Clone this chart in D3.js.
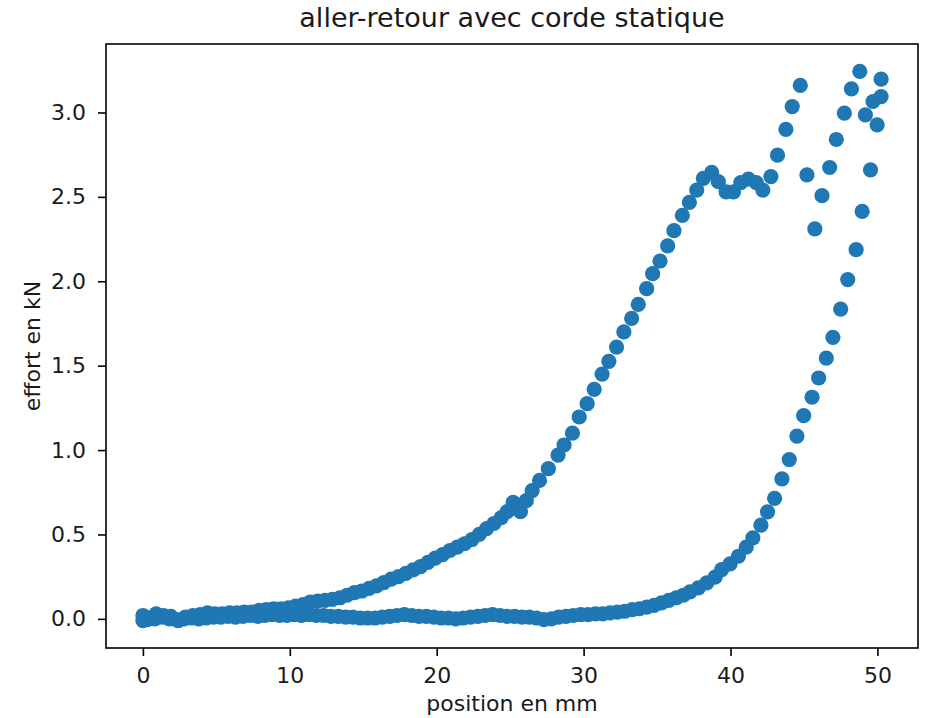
<!DOCTYPE html>
<html>
<head>
<meta charset="utf-8">
<script src="https://cdn.jsdelivr.net/npm/d3@7"></script>
<style>
  html, body { margin: 0; padding: 0; background: #fff; }
  svg { display: block; font-family: "DejaVu Sans", sans-serif; }
</style>
</head>
<body>
<svg id="chart" width="926" height="718"></svg>
<script>
// Loading run ("aller"): position (mm) and force (kN)
const allerX = [0.0, 0.4, 0.9, 1.4, 1.9, 2.4, 2.9, 3.4, 3.9, 4.4, 4.9, 5.4, 5.9, 6.4, 6.9, 7.4, 7.9, 8.4, 8.9, 9.4,
  9.9, 10.4, 10.9, 11.4, 11.9, 12.4, 12.9, 13.4, 13.9, 14.4, 14.9, 15.4, 15.9, 16.4, 16.9, 17.4, 17.9, 18.4, 18.9, 19.4,
  19.9, 20.4, 20.9, 21.4, 21.9, 22.4, 22.9, 23.4, 23.9, 24.4, 24.8, 25.2, 25.7, 26.1, 26.5, 27.0, 27.6, 28.26, 28.67, 29.24,
  29.7, 30.24, 30.72, 31.26, 31.72, 32.24, 32.74, 33.27, 33.72, 34.29, 34.7, 35.2, 35.72, 36.15, 36.72, 37.2, 37.7, 38.15, 38.72, 39.17,
  39.7, 40.2, 40.7, 41.22, 41.75, 42.2, 42.75, 43.2, 43.77, 44.2, 44.75, 45.2, 45.74, 46.23, 46.75, 47.2, 47.75, 48.23, 48.8, 50.25];
const allerY = [0.02, 0.005, 0.03, 0.02, 0.015, -0.01, 0.01, 0.02, 0.025, 0.035, 0.03, 0.03, 0.035, 0.035, 0.04, 0.04, 0.05, 0.055, 0.06, 0.06,
  0.065, 0.075, 0.085, 0.1, 0.105, 0.11, 0.115, 0.125, 0.14, 0.155, 0.165, 0.18, 0.195, 0.215, 0.235, 0.25, 0.27, 0.29, 0.31, 0.335,
  0.36, 0.38, 0.405, 0.425, 0.445, 0.47, 0.5, 0.535, 0.565, 0.6, 0.635, 0.69, 0.635, 0.7, 0.76, 0.82, 0.89, 0.97, 1.03, 1.10,
  1.196, 1.275, 1.36, 1.45, 1.526, 1.61, 1.70, 1.78, 1.863, 1.956, 2.045, 2.12, 2.21, 2.30, 2.39, 2.467, 2.54, 2.61, 2.645, 2.59,
  2.53, 2.53, 2.585, 2.605, 2.585, 2.54, 2.62, 2.747, 2.90, 3.035, 3.16, 2.63, 2.31, 2.507, 2.674, 2.84, 2.996, 3.14, 3.243, 3.197];

// Unloading run ("retour")
const retourX = [50.25, 49.7, 49.18, 49.98, 49.53, 48.96, 48.55, 47.98, 47.5, 46.97, 46.52, 46.0, 45.55, 44.98, 44.52, 44.0, 43.5, 43.0, 42.52, 42.07,
  41.52, 41.07, 40.54, 39.97, 39.4, 38.95, 38.38, 37.81, 37.24, 36.79, 36.3, 35.8, 35.3, 34.8, 34.3, 33.8, 33.3, 32.8, 32.3, 31.8,
  31.3, 30.8, 30.3, 29.8, 29.3, 28.8, 28.3, 27.8, 27.3, 26.8, 26.3, 25.8, 25.3, 24.8, 24.3, 23.8, 23.3, 22.8, 22.3, 21.8,
  21.3, 20.8, 20.3, 19.8, 19.3, 18.8, 18.3, 17.8, 17.3, 16.8, 16.3, 15.8, 15.3, 14.8, 14.3, 13.8, 13.3, 12.8, 12.3, 11.8,
  11.3, 10.8, 10.3, 9.8, 9.3, 8.8, 8.3, 7.8, 7.3, 6.8, 6.3, 5.8, 5.3, 4.8, 4.3, 3.8, 3.3, 2.8, 2.3, 1.8,
  1.3, 0.8, 0.3, 0.0];
const retourY = [3.094, 3.065, 2.986, 2.927, 2.66, 2.414, 2.187, 2.01, 1.835, 1.668, 1.545, 1.427, 1.313, 1.204, 1.082, 0.944, 0.829, 0.714, 0.634, 0.555,
  0.48, 0.425, 0.371, 0.326, 0.292, 0.247, 0.213, 0.184, 0.16, 0.14, 0.125, 0.11, 0.095, 0.08, 0.07, 0.06, 0.055, 0.045, 0.04, 0.035,
  0.03, 0.03, 0.025, 0.025, 0.02, 0.015, 0.01, 0.0, -0.005, 0.005, 0.01, 0.01, 0.015, 0.015, 0.02, 0.025, 0.02, 0.015, 0.01, 0.005,
  0.0, 0.005, 0.005, 0.01, 0.015, 0.015, 0.02, 0.025, 0.02, 0.015, 0.01, 0.005, 0.005, 0.005, 0.01, 0.01, 0.015, 0.015, 0.02, 0.02,
  0.025, 0.02, 0.025, 0.02, 0.02, 0.025, 0.02, 0.015, 0.02, 0.015, 0.01, 0.015, 0.01, 0.01, 0.005, 0.0, 0.005, 0.0, -0.005, 0.0,
  0.01, 0.0, -0.005, -0.01];

const xTicks = [0, 10, 20, 30, 40, 50];
const yTicks = [0.0, 0.5, 1.0, 1.5, 2.0, 2.5, 3.0];

const title = "aller-retour avec corde statique";
const xLabel = "position en mm";
const yLabel = "effort en kN";

const color = "#1f77b4";
const margin = { left: 106, right: 8, top: 44, bottom: 70 };
const W = 926, H = 718;
const labelSize = "22px";
const titleSize = "27px";

const svg = d3.select("#chart");

const points = allerX.map((x, i) => ({ x, y: allerY[i] }))
  .concat(retourX.map((x, i) => ({ x, y: retourY[i] })));

// Data limits with 5% padding on each side
function padded(ext) {
  const d = (ext[1] - ext[0]) * 0.05;
  return [ext[0] - d, ext[1] + d];
}
const x = d3.scaleLinear()
  .domain(padded(d3.extent(points, d => d.x)))
  .range([margin.left, W - margin.right]);
const y = d3.scaleLinear()
  .domain(padded(d3.extent(points, d => d.y)))
  .range([H - margin.bottom, margin.top]);

// Markers
svg.append("g")
  .selectAll("circle")
  .data(points)
  .join("circle")
  .attr("cx", d => x(d.x))
  .attr("cy", d => y(d.y))
  .attr("r", 7.6)
  .attr("fill", color);

// Axes
const xAxis = svg.append("g")
  .attr("transform", `translate(0,${H - margin.bottom})`)
  .call(d3.axisBottom(x).tickValues(xTicks).tickFormat(d3.format("d")).tickSize(8).tickPadding(11));
const yAxis = svg.append("g")
  .attr("transform", `translate(${margin.left},0)`)
  .call(d3.axisLeft(y).tickValues(yTicks).tickFormat(d3.format(".1f")).tickSize(8).tickPadding(12));

[xAxis, yAxis].forEach(g => {
  g.select(".domain").remove();
  g.selectAll(".tick line").attr("stroke", "#000").attr("stroke-width", 1.6);
  g.selectAll(".tick text").attr("fill", "#1a1a1a").style("font-size", labelSize)
    .style("font-family", "'DejaVu Sans', sans-serif");
});

// Frame
svg.append("rect")
  .attr("x", margin.left)
  .attr("y", margin.top)
  .attr("width", W - margin.right - margin.left)
  .attr("height", H - margin.bottom - margin.top)
  .attr("fill", "none")
  .attr("stroke", "#000")
  .attr("stroke-width", 1.6);

const cx = (margin.left + W - margin.right) / 2;

svg.append("text")
  .attr("x", cx)
  .attr("y", 27)
  .attr("text-anchor", "middle")
  .style("font-size", titleSize)
  .attr("fill", "#1a1a1a")
  .text(title);

svg.append("text")
  .attr("x", cx)
  .attr("y", 711)
  .attr("text-anchor", "middle")
  .style("font-size", labelSize)
  .attr("fill", "#1a1a1a")
  .text(xLabel);

svg.append("text")
  .attr("transform", `translate(40,${(margin.top + H - margin.bottom) / 2}) rotate(-90)`)
  .attr("text-anchor", "middle")
  .style("font-size", labelSize)
  .attr("fill", "#1a1a1a")
  .text(yLabel);
</script>
</body>
</html>
